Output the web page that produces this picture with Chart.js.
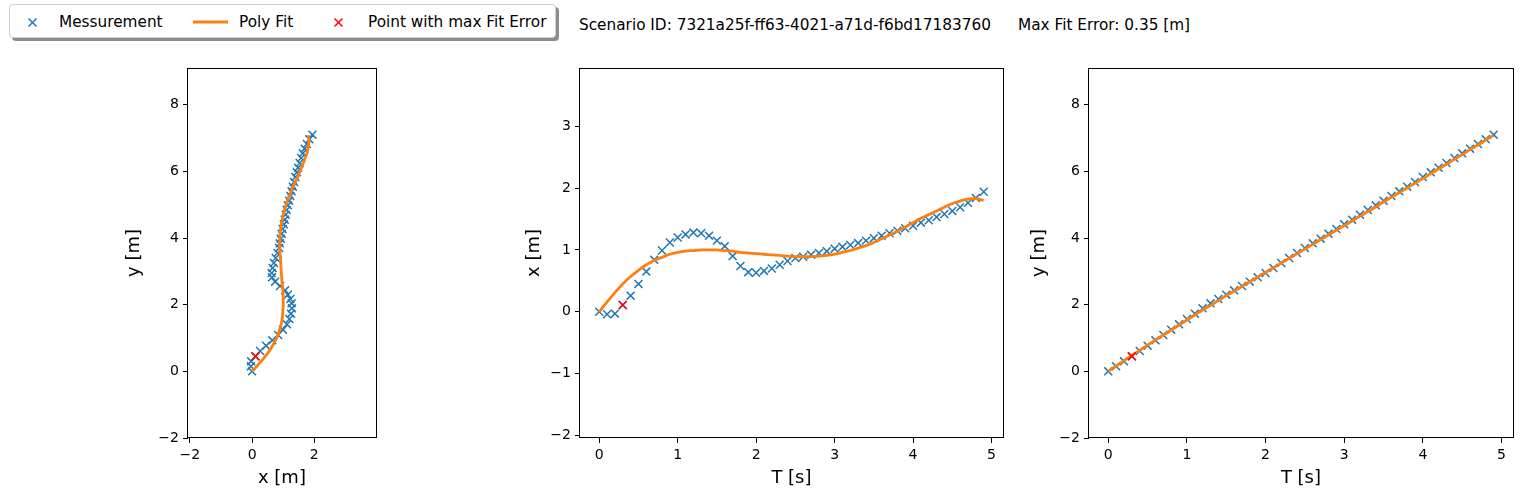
<!DOCTYPE html>
<html><head><meta charset="utf-8">
<script src="https://cdn.jsdelivr.net/npm/chart.js@4.4.1/dist/chart.umd.min.js"></script>
<style>
body{margin:0;background:#fff;width:1523px;height:498px;overflow:hidden;position:relative;font-family:'DejaVu Sans',sans-serif;}
canvas{position:absolute;}
.txt{position:absolute;white-space:nowrap;font-size:15.3px;line-height:18px;color:#000;font-family:'DejaVu Sans',sans-serif;}
#legendBox{position:absolute;left:9px;top:4px;width:545px;height:32px;border:1px solid #cfcfcf;border-radius:4px;background:#fff;box-shadow:3px 3px 0 rgba(0,0,0,0.45);}
svg{position:absolute;}
</style></head><body>
<div id="legendBox"></div>
<svg style="left:27px;top:17px" width="11" height="11"><path d="M1.5 1.5L9.5 9.5M9.5 1.5L1.5 9.5" stroke="#1f77b4" stroke-width="1.5"/></svg>
<span class="txt" style="left:59px;top:13px">Messurement</span>
<svg style="left:193px;top:19px" width="35" height="6"><path d="M0 3H35" stroke="#ff7f0e" stroke-width="2.8"/></svg>
<span class="txt" style="left:239px;top:13px">Poly Fit</span>
<svg style="left:333px;top:17px" width="11" height="11"><path d="M1.5 1.5L9.5 9.5M9.5 1.5L1.5 9.5" stroke="#ff0000" stroke-width="1.5"/></svg>
<span class="txt" style="left:368px;top:13px">Point with max Fit Error</span>
<span class="txt" style="left:579px;top:16px">Scenario ID: 7321a25f-ff63-4021-a71d-f6bd17183760</span>
<span class="txt" style="left:1018px;top:16px">Max Fit Error: 0.35 [m]</span>
<canvas id="c1"></canvas>
<canvas id="c2"></canvas>
<canvas id="c3"></canvas>
<script>
// ---- data ----
const times = [0.0,0.1,0.2,0.3,0.4,0.5,0.6,0.7,0.8,0.9,1.0,1.1,1.2,1.3,1.4,1.5,1.6,1.7,1.8,1.9,2.0,2.1,2.2,2.3,2.4,2.5,2.6,2.7,2.8,2.9,3.0,3.1,3.2,3.3,3.4,3.5,3.6,3.7,3.8,3.9,4.0,4.1,4.2,4.3,4.4,4.5,4.6,4.7,4.8,4.9];
const measX = [0.00,-0.04,-0.03,0.11,0.26,0.45,0.65,0.84,0.99,1.12,1.20,1.25,1.28,1.27,1.23,1.15,1.06,0.90,0.74,0.64,0.63,0.66,0.70,0.76,0.82,0.87,0.89,0.92,0.95,0.98,1.02,1.05,1.08,1.11,1.15,1.19,1.23,1.27,1.31,1.35,1.39,1.44,1.48,1.53,1.58,1.63,1.69,1.76,1.84,1.94];
const measY = [0.00,0.15,0.30,0.45,0.61,0.77,0.93,1.09,1.25,1.41,1.57,1.73,1.89,2.04,2.17,2.30,2.43,2.56,2.69,2.82,2.95,3.10,3.25,3.40,3.55,3.70,3.84,3.98,4.13,4.27,4.41,4.55,4.70,4.84,4.98,5.12,5.26,5.40,5.54,5.68,5.83,5.97,6.11,6.25,6.40,6.54,6.68,6.82,6.96,7.10];
const fitX = [0.00,0.16,0.31,0.45,0.57,0.67,0.76,0.83,0.88,0.93,0.96,0.98,0.99,1.00,1.00,1.00,0.99,0.98,0.96,0.95,0.94,0.93,0.92,0.91,0.90,0.89,0.89,0.89,0.90,0.91,0.93,0.96,0.99,1.03,1.07,1.12,1.18,1.24,1.30,1.37,1.44,1.51,1.57,1.63,1.69,1.75,1.79,1.82,1.83,1.80];
const fitY = [0.00,0.16,0.32,0.48,0.63,0.79,0.94,1.09,1.24,1.39,1.54,1.69,1.84,1.98,2.12,2.27,2.41,2.55,2.69,2.83,2.97,3.11,3.25,3.39,3.53,3.67,3.81,3.95,4.09,4.23,4.37,4.51,4.65,4.79,4.93,5.08,5.22,5.36,5.50,5.64,5.78,5.93,6.07,6.21,6.36,6.50,6.65,6.79,6.94,7.08];
const maxErrIndex = 3;
const xyTicksX = [-2,0,2];
const yTicks = [-2,0,2,4,6,8];
const tTicks = [0,1,2,3,4,5];
const xTicksT = [-2,-1,0,1,2,3];

const BLUE = '#1f77b4', ORANGE = '#ff7f0e', RED = '#ff0000';
const FONT = "'DejaVu Sans', sans-serif";
const fmt = v => String(v).replace('-', '\u2212');
const pts = (a, b) => a.map((v, i) => ({x: v, y: b[i]}));

const framePlugin = {
  id: 'frame',
  afterDraw(chart) {
    const {ctx, chartArea: a} = chart;
    ctx.save();
    ctx.strokeStyle = '#000';
    ctx.lineWidth = 1;
    ctx.strokeRect(Math.round(a.left) - 0.5, Math.round(a.top) + 0.5, Math.round(a.right - a.left) + 1, Math.round(a.bottom - a.top) - 1);
    ctx.restore();
  }
};

function axis(min, max, ticks, title, isY, titlePad) {
  return {
    type: 'linear', min, max,
    afterBuildTicks: s => { s.ticks = ticks.map(v => ({value: v})); },
    afterFit: s => {
      if (isY) { s.width = 70; s.paddingTop = 0; s.paddingBottom = 0; }
      else { s.height = 52; s.paddingLeft = 0; s.paddingRight = 0; }
    },
    ticks: {color: '#000', font: {family: FONT, size: 14}, padding: 4, autoSkip: false, maxRotation: 0, callback: v => fmt(v)},
    grid: {display: true, drawOnChartArea: false, drawTicks: true, tickLength: 5, tickColor: '#000', tickWidth: 1},
    border: {display: false},
    title: {display: true, text: title, color: '#000', font: {family: FONT, size: 18}, padding: isY ? {top: titlePad, bottom: 0} : {top: 0, bottom: 1}}
  };
}

function makeChart(id, left, right, xs, ys, fxs, fys, xCfg, yCfg) {
  const Y_W = 70, X_H = 52, PAD_T = 8, PAD_R = 6, AREA_H = 370;
  const w = Y_W + (right - left) + PAD_R, h = PAD_T + AREA_H + X_H;
  const cv = document.getElementById(id);
  cv.width = w; cv.height = h;
  cv.style.left = (left - Y_W) + 'px'; cv.style.top = (68 - PAD_T) + 'px';
  cv.style.width = w + 'px'; cv.style.height = h + 'px';
  new Chart(cv, {
    type: 'scatter',
    data: {
      datasets: [
        {label: 'Point with max Fit Error', data: [{x: xs[maxErrIndex], y: ys[maxErrIndex]}], pointStyle: 'crossRot', pointRadius: 5.6, borderColor: RED, backgroundColor: RED, pointBorderWidth: 1.5},
        {label: 'Poly Fit', data: pts(fxs, fys), showLine: true, pointRadius: 0, borderColor: ORANGE, backgroundColor: ORANGE, borderWidth: 2.8, tension: 0.4, fill: false},
        {label: 'Messurement', data: pts(xs, ys), pointStyle: 'crossRot', pointRadius: 5.6, borderColor: BLUE, backgroundColor: BLUE, pointBorderWidth: 1.5}
      ]
    },
    options: {
      responsive: false, animation: false, devicePixelRatio: 1,
      layout: {padding: {top: PAD_T, right: PAD_R, left: 0, bottom: 0}},
      plugins: {legend: {display: false}, tooltip: {enabled: false}},
      events: [],
      scales: {x: xCfg, y: yCfg}
    },
    plugins: [framePlugin]
  });
}

makeChart('c1', 188, 377, measX, measY, fitX, fitY,
  axis(-2.06, 3.98, xyTicksX, 'x [m]', false),
  axis(-2.0, 9.1, yTicks, 'y [m]', true, 6));
makeChart('c2', 580, 1004, times, measX, times, fitX,
  axis(-0.245, 5.145, tTicks, 'T [s]', false),
  axis(-2.04, 3.94, xTicksT, 'x [m]', true, 14));
makeChart('c3', 1089, 1514, times, measY, times, fitY,
  axis(-0.245, 5.145, tTicks, 'T [s]', false),
  axis(-2.0, 9.1, yTicks, 'y [m]', true, 10));
</script>
</body></html>
